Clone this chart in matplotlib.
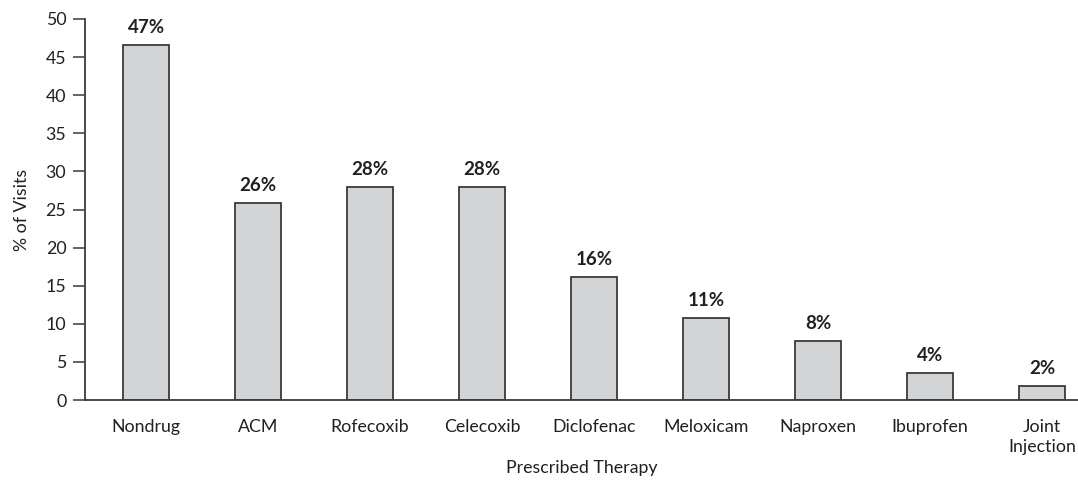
import numpy as np
import matplotlib.pyplot as plt

# Data
therapies = ['Nondrug', 'ACM', 'Rofecoxib', 'Celecoxib', 'Diclofenac',
             'Meloxicam', 'Naproxen', 'Ibuprofen', 'Joint\nInjection']
visits_pct = [46.6, 25.8, 27.9, 28.0, 16.2, 10.8, 7.8, 3.6, 1.9]
value_labels = ['47%', '26%', '28%', '28%', '16%', '11%', '8%', '4%', '2%']
y_ticks = [0, 5, 10, 15, 20, 25, 30, 35, 40, 45, 50]

plt.rcParams['font.family'] = ['Lato', 'DejaVu Sans']
text_color = '#231f20'
line_color = '#3a3a3a'

fig = plt.figure(figsize=(10.78, 4.93), dpi=100)
ax = fig.add_axes([0.0789, 0.1886, 0.9211, 0.7729])

x = np.arange(len(therapies))
bars = ax.bar(x, visits_pct, width=0.41, color='#d3d4d6',
              edgecolor=line_color, linewidth=1.3)

# Value labels above each bar
for b, lab in zip(bars, value_labels):
    ax.annotate(lab, (b.get_x() + b.get_width() / 2, b.get_height()),
                xytext=(0, 6.5), textcoords='offset points',
                ha='center', va='bottom', fontsize=13.5,
                fontweight='bold', color=text_color)

ax.set_xlim(-0.545, 8.32)
ax.set_ylim(0, 50)
ax.set_yticks(y_ticks)
ax.set_xticks(x)
ax.set_xticklabels(therapies, fontsize=12.8, color=text_color,
                   linespacing=1.25)
ax.tick_params(axis='x', length=0, pad=14)
ax.tick_params(axis='y', length=8.5, width=1.1, color=line_color,
               labelsize=12.8, labelcolor=text_color, pad=5)

for s in ['top', 'right']:
    ax.spines[s].set_visible(False)
for s in ['left', 'bottom']:
    ax.spines[s].set_color(line_color)
    ax.spines[s].set_linewidth(1.3)

ax.set_ylabel('% of Visits', fontsize=12.8, color=text_color, labelpad=11)
ax.set_xlabel('Prescribed Therapy', fontsize=12.8, color=text_color,
              labelpad=4)

fig.savefig('out.png', dpi=100)
